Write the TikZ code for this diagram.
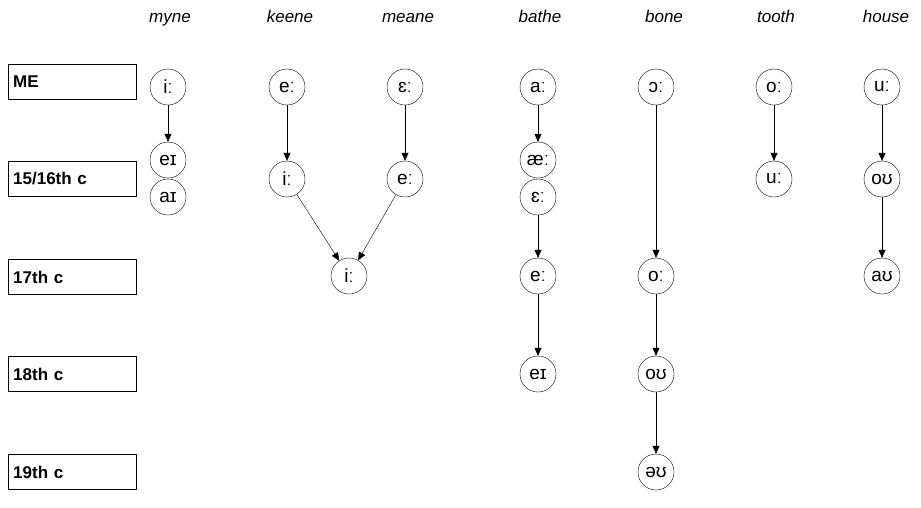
\documentclass[tikz,border=0pt]{standalone}
\usepackage{fontspec}
\setmainfont{Liberation Sans}
\usetikzlibrary{arrows.meta}
\begin{document}
\begin{tikzpicture}[x=1pt,y=-1pt,
  v/.style={circle,draw,minimum size=36pt,inner sep=0pt,font=\fontsize{19}{19}\selectfont},
  per/.style={draw,minimum width=128pt,minimum height=35pt,anchor=west,font=\bfseries\fontsize{17}{17}\selectfont,text width=118pt,align=left},
  hd/.style={font=\itshape\fontsize{17}{17}\selectfont},
  a/.style={-{Triangle[length=8pt,width=7pt]}}]
\useasboundingbox (0,0) rectangle (921,507);
\node[per] (p1) at (8,82) {ME};
\node[per] (p2) at (8,179) {15/16th c};
\node[per] (p3) at (8,277) {17th c};
\node[per] (p4) at (8,374) {18th c};
\node[per] (p5) at (8,472) {19th c};
\node[hd,anchor=base] (h1) at (170,22) {myne};
\node[hd,anchor=base] (h2) at (290,22) {keene};
\node[hd,anchor=base] (h3) at (408,22) {meane};
\node[hd,anchor=base] (h4) at (540,22) {bathe};
\node[hd,anchor=base] (h5) at (664,22) {bone};
\node[hd,anchor=base] (h6) at (776,22) {tooth};
\node[hd,anchor=base] (h7) at (886,22) {house};
\node[v] (m1) at (168,87) {iː};
\node[v] (m2) at (168,160) {eɪ};
\node[v] (m3) at (168,197) {aɪ};
\node[v] (k1) at (287,87) {eː};
\node[v] (k2) at (287,179) {iː};
\node[v] (e1) at (405,87) {ɛː};
\node[v] (e2) at (405,179) {eː};
\node[v] (k3) at (349,276) {iː};
\node[v] (b1) at (538,87) {aː};
\node[v] (b2) at (538,160) {æː};
\node[v] (b3) at (538,197) {ɛː};
\node[v] (b4) at (538,276) {eː};
\node[v] (b5) at (538,374) {eɪ};
\node[v] (o1) at (656,87) {ɔː};
\node[v] (o2) at (656,276) {oː};
\node[v] (o3) at (656,374) {oʊ};
\node[v] (o4) at (656,472) {əʊ};
\node[v] (t1) at (774,87) {oː};
\node[v] (t2) at (774,179) {uː};
\node[v] (u1) at (882,87) {uː};
\node[v] (u2) at (882,179) {oʊ};
\node[v] (u3) at (882,276) {aʊ};
\draw[a] (m1)--(m2);
\draw[a] (k1)--(k2); \draw[a] (k2)--(k3);
\draw[a] (e1)--(e2); \draw[a] (e2)--(k3);
\draw[a] (b1)--(b2); \draw[a] (b3)--(b4); \draw[a] (b4)--(b5);
\draw[a] (o1)--(o2); \draw[a] (o2)--(o3); \draw[a] (o3)--(o4);
\draw[a] (t1)--(t2);
\draw[a] (u1)--(u2); \draw[a] (u2)--(u3);
\end{tikzpicture}
\end{document}
